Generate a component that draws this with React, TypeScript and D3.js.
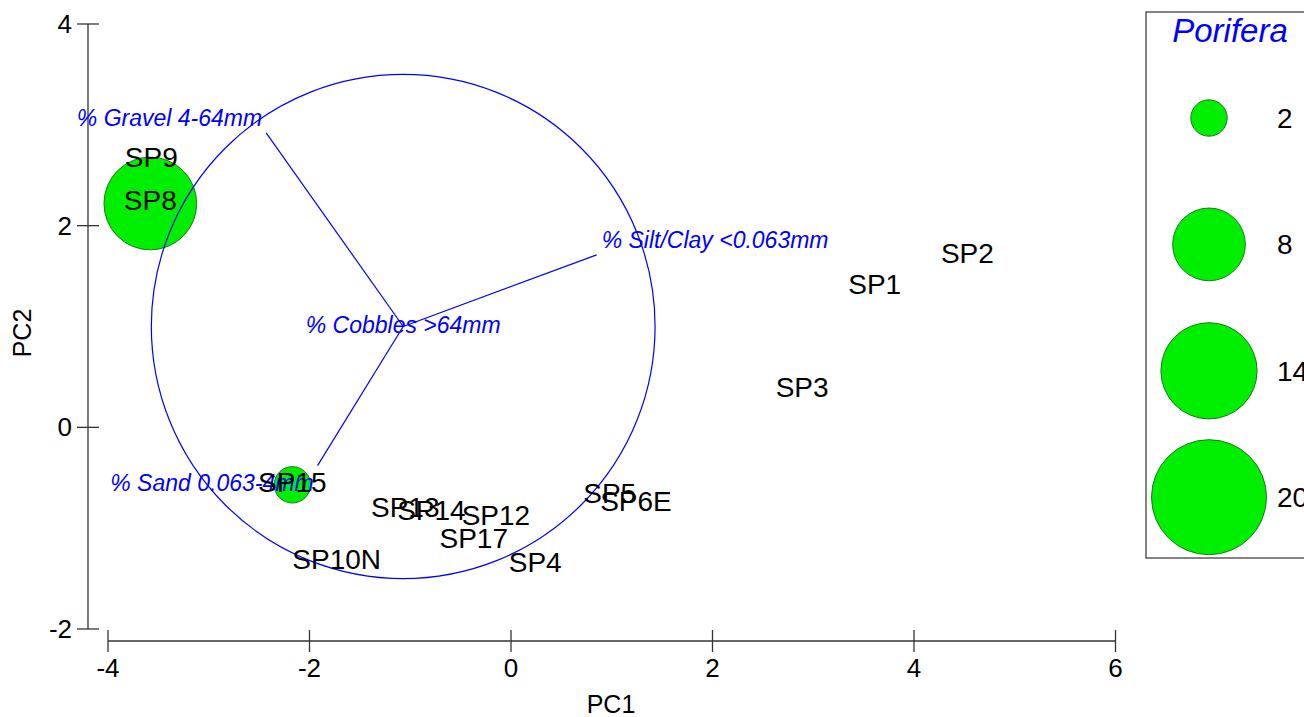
import React from "react";
import * as d3 from "d3";

const sites = ["SP1", "SP2", "SP3", "SP4", "SP5", "SP6E", "SP8", "SP9", "SP10N", "SP12", "SP13", "SP14", "SP15", "SP17"];
const pc1 = [3.61, 4.53, 2.89, 0.24, 0.98, 1.24, -3.58, -3.57, -1.73, -0.15, -1.05, -0.79, -2.17, -0.37];
const pc2 = [1.39, 1.70, 0.37, -1.37, -0.68, -0.76, 2.22, 2.65, -1.34, -0.90, -0.82, -0.85, -0.57, -1.13];
const porifera = [0, 0, 0, 0, 0, 0, 13, 0, 0, 0, 0, 0, 2, 0];

const vectorNames = ["% Gravel 4-64mm", "% Silt/Clay <0.063mm", "% Sand 0.063-4mm", "% Cobbles >64mm"];
const vectorEndX = [-2.43, 0.85, -1.92, -1.07];
const vectorEndY = [2.92, 1.71, -0.38, 1.0];
const circleCenter = [-1.07, 1.0];
const circleRadius = 2.5;

const xTicks = [-4, -2, 0, 2, 4, 6];
const yTicks = [-2, 0, 2, 4];
const legendValues = [2, 8, 14, 20];
const legendTitle = "Porifera";

const FONT = "'Liberation Sans', Arial, sans-serif";
const AXIS = "#333333";
const BLUE = "#0000ff";
const FILL = "#00ee00";
const STROKE = "#1a7a1a";

export default function App() {
  const x = d3.scaleLinear().domain([-4, 6]).range([108, 1115.5]);
  const y = d3.scaleLinear().domain([-2, 4]).range([629, 24]);
  const r = d3.scaleSqrt().domain([0, 20]).range([0, 57.5]);

  const ox = x(circleCenter[0]);
  const oy = y(circleCenter[1]);

  const axisX = 88;
  const axisY = 641;

  return (
    <svg width={1304} height={717} style={{ position: "absolute", left: 0, top: 0, background: "#fff" }} fontFamily={FONT}>
      {/* Y axis */}
      <line x1={axisX} x2={axisX} y1={y(4)} y2={y(-2)} stroke={AXIS} strokeWidth={1.3} />
      {yTicks.map((t) => (
        <g key={"yt" + t}>
          <line x1={axisX - 11} x2={axisX + 11} y1={y(t)} y2={y(t)} stroke={AXIS} strokeWidth={1.3} />
          <text x={72} y={y(t) + 9} textAnchor="end" fontSize={26} fill="#000">{t}</text>
        </g>
      ))}
      {/* X axis */}
      <line x1={x(-4)} x2={x(6)} y1={axisY} y2={axisY} stroke={AXIS} strokeWidth={1.3} />
      {xTicks.map((t) => (
        <g key={"xt" + t}>
          <line x1={x(t)} x2={x(t)} y1={axisY - 11} y2={axisY + 11} stroke={AXIS} strokeWidth={1.3} />
          <text x={x(t)} y={677} textAnchor="middle" fontSize={26} fill="#000">{t}</text>
        </g>
      ))}
      <text x={611} y={713} textAnchor="middle" fontSize={25} fill="#000">PC1</text>
      <text transform={`translate(31,333) rotate(-90)`} textAnchor="middle" fontSize={25} fill="#000">PC2</text>

      {/* bubbles */}
      {sites.map((s, i) =>
        porifera[i] > 0 ? (
          <circle key={"b" + s} cx={x(pc1[i])} cy={y(pc2[i])} r={r(porifera[i])} fill={FILL} stroke={STROKE} strokeWidth={1} />
        ) : null
      )}

      {/* correlation circle and vectors */}
      <ellipse cx={ox} cy={oy} rx={x(circleCenter[0] + circleRadius) - ox} ry={oy - y(circleCenter[1] + circleRadius)} fill="none" stroke={BLUE} strokeWidth={1.2} />
      {vectorNames.map((n, i) => {
        const ex = x(vectorEndX[i]);
        const ey = y(vectorEndY[i]);
        const dx = ex - ox;
        const dy = ey - oy;
        const zero = Math.abs(dx) < 1 && Math.abs(dy) < 1;
        let anchor = "middle";
        let tx = ex;
        let ty = ey + 6;
        if (!zero) {
          anchor = dx < 0 ? "end" : "start";
          tx = dx < 0 ? ex - 4 : ex + 5;
          ty = dy < 0 ? ey - 7 : ey + 25;
        }
        return (
          <g key={"v" + n}>
            {!zero && <line x1={ox} y1={oy} x2={ex} y2={ey} stroke={BLUE} strokeWidth={1.2} />}
            <text x={tx} y={ty} textAnchor={anchor} fontSize={23} fontStyle="italic" fill={BLUE}>{n}</text>
          </g>
        );
      })}

      {/* site labels */}
      {sites.map((s, i) => (
        <text key={"l" + s} x={x(pc1[i])} y={y(pc2[i]) + 7} textAnchor="middle" fontSize={28} fill="#000">{s}</text>
      ))}

      {/* legend */}
      <rect x={1146} y={12} width={200} height={546} fill="none" stroke={AXIS} strokeWidth={1.2} />
      <text x={1230} y={42} textAnchor="middle" fontSize={33} fontStyle="italic" fill={BLUE}>{legendTitle}</text>
      {legendValues.map((v, i) => {
        const cy = 118 + i * 126.4;
        return (
          <g key={"lg" + v}>
            <circle cx={1209} cy={cy} r={r(v)} fill={FILL} stroke={STROKE} strokeWidth={1} />
            <text x={1277} y={cy + 10} fontSize={28} fill="#000">{v}</text>
          </g>
        );
      })}
    </svg>
  );
}
